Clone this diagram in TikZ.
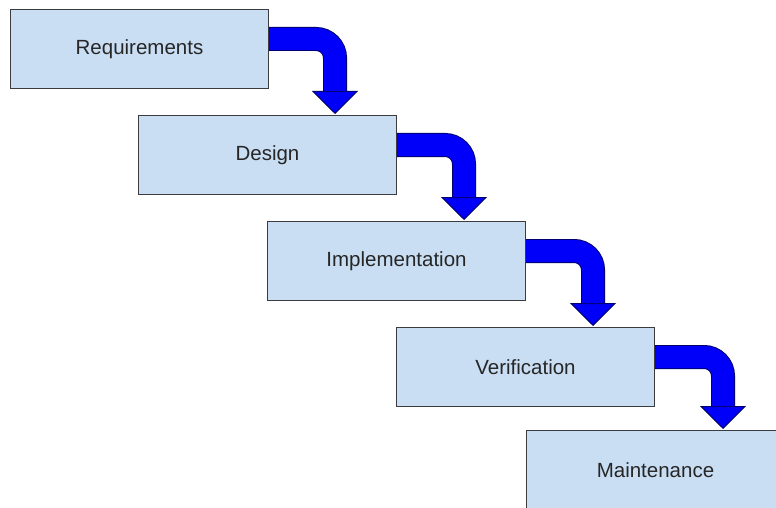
\documentclass[tikz,border=0pt]{standalone}
\usepackage{fontspec}
\setmainfont{Liberation Sans}
\usepackage{xcolor}
\usetikzlibrary{arrows.meta,positioning}

\definecolor{boxfill}{RGB}{201,221,243}
\definecolor{boxline}{RGB}{60,60,64}
\definecolor{flowblue}{RGB}{0,0,250}
\definecolor{flowedge}{RGB}{0,0,110}

\begin{document}
\begin{tikzpicture}[
    stage/.style={draw=boxline, line width=1pt, fill=boxfill, minimum width=258pt, minimum height=79pt,
                  inner sep=0pt, font=\fontsize{20.5}{24}\selectfont, text=black!85},
    flow/.style={line width=24pt, draw=flowedge, rounded corners=19pt,
                 -{Triangle[width=46pt, length=23pt, fill=flowblue, line width=1pt]}},
    flowfill/.style={line width=22pt, draw=flowblue, rounded corners=19pt, shorten >=23pt},
]
\useasboundingbox (0,0) rectangle (776pt,-508pt);
\clip (0,0) rectangle (776pt,-508pt);
\fill[white] (0,0) rectangle (776pt,-508pt);

% the five phases, stepping down to the right
\node[stage, anchor=north west] (req) at (10pt,-9pt) {Requirements};
\node[stage, below right=26pt and -131pt of req] (des) {Design};
\node[stage, below right=26pt and -130pt of des] (imp) {Implementation};
\node[stage, below right=26pt and -130pt of imp] (ver) {Verification};
\node[stage, below right=23pt and -129pt of ver] (mai) {Maintenance};

% bent arrows from one phase into the next
\foreach \a/\b in {req/des, des/imp, imp/ver, ver/mai} {
    \draw[flow] ([yshift=-30pt]\a.north east) -| ([xshift=-62pt,yshift=1pt]\b.north east);
    \draw[flowfill] ([yshift=-30pt]\a.north east) -| ([xshift=-62pt,yshift=1pt]\b.north east);
}
\end{tikzpicture}
\end{document}
